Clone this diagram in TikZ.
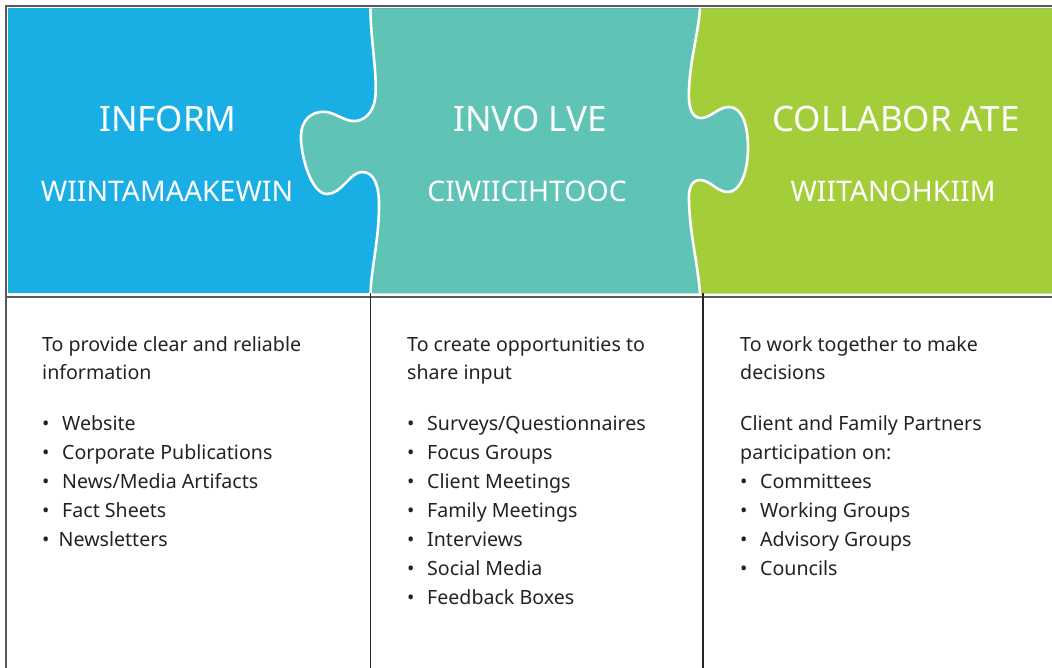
\documentclass[tikz,border=0pt]{standalone}
\usepackage{fontspec}
\setmainfont{Noto Sans}
\definecolor{informblue}{HTML}{19AFE5}
\definecolor{involveteal}{HTML}{5FC4B6}
\definecolor{collabgreen}{HTML}{A4CE39}
\definecolor{rulegray}{HTML}{5A5A5A}
\definecolor{bodytext}{HTML}{222222}
\newcommand\itm[1]{\makebox[20pt][l]{\textbullet}#1}
\newcommand\itmnarrow[1]{\makebox[16.5pt][l]{\textbullet}#1}
\begin{document}
\begin{tikzpicture}[x=1pt,y=-1pt,
  seamA/.style={insert path={(370.5,8.5) .. controls (370.5,40) and (377,70) .. (375.5,95)
    .. controls (374,115) and (362,122) .. (352,121)
    .. controls (342,120) and (332,110) .. (320,112)
    .. controls (306,114) and (300,126) .. (301,140)
    .. controls (302,160) and (312,194) .. (327,194)
    .. controls (342,194) and (350,172) .. (362,172)
    .. controls (374,172) and (379,185) .. (379,205)
    .. controls (379,240) and (371,270) .. (370.5,293.5)}},
  seamB/.style={insert path={(700,8.5) .. controls (698,35) and (690,60) .. (689,90)
    .. controls (688,108) and (692,118) .. (701,118)
    .. controls (711,118) and (718,107) .. (729,107)
    .. controls (742,107) and (748,125) .. (748,148)
    .. controls (748,172) and (740,192) .. (728,192)
    .. controls (717,192) and (710,180) .. (700,180)
    .. controls (692,180) and (688,188) .. (689,202)
    .. controls (690,235) and (698,265) .. (700,293.5)}},
  seamline/.style={draw=white, line width=2.6pt},
  title/.style={text=white, anchor=base, inner sep=0pt, font=\fontsize{35}{40}\selectfont},
  subtitle/.style={text=white, anchor=base, inner sep=0pt, font=\fontsize{28.4}{32}\selectfont},
  body/.style={text=bodytext, anchor=base west, inner sep=0pt, font=\fontsize{19.6}{29}\selectfont},
  frame/.style={draw=rulegray, line width=2pt},
  divider/.style={draw=black!85, line width=1.2pt}]
\useasboundingbox (0,0) rectangle (1052,668);

% puzzle pieces
\fill[informblue] (8,8.5) rectangle (1052,293.5);
\fill[involveteal] [seamA] -- (1052,293.5) -- (1052,8.5) -- cycle;
\fill[collabgreen] [seamB] -- (1052,293.5) -- (1052,8.5) -- cycle;
\path[seamline] [seamA];
\path[seamline] [seamB];

% frame and column rules
\draw[frame] (5,6) -- (1052,6);
\draw[frame] (6,5) -- (6,668);
\draw[frame] (6,297.5) -- (1052,297.5);
\draw[divider] (370.5,293.5) -- (370.5,668);
\draw[divider] (703,293.5) -- (703,668);

% headings
\node[title] (t1) at (168,132) {INFORM};
\node[subtitle] (s1) at (167,202) {WIINTAMAAKEWIN};
\node[title] (t2) at (530,132) {INVO LVE};
\node[subtitle] (s2) at (527,202) {CIWIICIHTOOC};
\node[title] (t3) at (896,132) {COLLABOR ATE};
\node[subtitle] (s3) at (893,202) {WIITANOHKIIM};

% column 1
\node[body] (a1) at (42,351) {To provide clear and reliable};
\node[body] (a2) at (42,379) {information};
\node[body] (a3) at (42,430) {\itm{Website}};
\node[body] (a4) at (42,459) {\itm{Corporate Publications}};
\node[body] (a5) at (42,488) {\itm{News/Media Artifacts}};
\node[body] (a6) at (42,517) {\itm{Fact Sheets}};
\node[body] (a7) at (42,546) {\itmnarrow{Newsletters}};

% column 2
\node[body] (b1) at (407,351) {To create opportunities to};
\node[body] (b2) at (407,379) {share input};
\node[body] (b3) at (407,430) {\itm{Surveys/Questionnaires}};
\node[body] (b4) at (407,459) {\itm{Focus Groups}};
\node[body] (b5) at (407,488) {\itm{Client Meetings}};
\node[body] (b6) at (407,517) {\itm{Family Meetings}};
\node[body] (b7) at (407,546) {\itm{Interviews}};
\node[body] (b8) at (407,575) {\itm{Social Media}};
\node[body] (b9) at (407,604) {\itm{Feedback Boxes}};

% column 3
\node[body] (c1) at (740,351) {To work together to make};
\node[body] (c2) at (740,379) {decisions};
\node[body] (c3) at (740,430) {Client and Family Partners};
\node[body] (c4) at (740,459) {participation on:};
\node[body] (c5) at (740,488) {\itm{Committees}};
\node[body] (c6) at (740,517) {\itm{Working Groups}};
\node[body] (c7) at (740,546) {\itm{Advisory Groups}};
\node[body] (c8) at (740,575) {\itm{Councils}};
\end{tikzpicture}
\end{document}
